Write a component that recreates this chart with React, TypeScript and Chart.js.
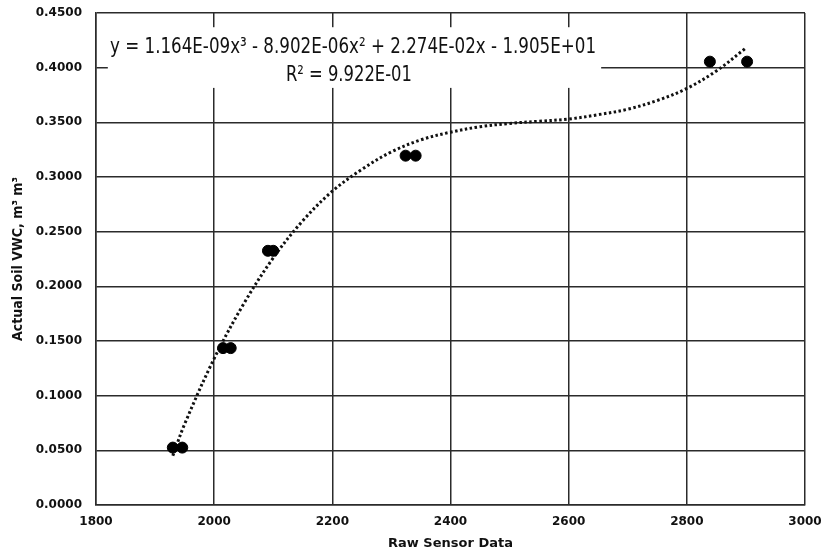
import React, { useEffect, useRef } from "react";
import { Chart, registerables } from "chart.js";

Chart.register(...registerables);

// Measured data (Raw sensor reading vs actual VWC)
const sensorX = [1930, 1946, 2015, 2028, 2091, 2100, 2324, 2341, 2839, 2902];
const vwcY = [0.0525, 0.0525, 0.1435, 0.1435, 0.2325, 0.2325, 0.3195, 0.3195, 0.4055, 0.4055];

// Trend line
const trendX = [1930, 1950, 2000, 2050, 2100, 2150, 2200, 2250, 2300, 2350, 2400, 2450, 2500, 2550, 2600, 2650, 2700, 2750, 2800, 2850, 2900];
const trendY = [0.045, 0.074, 0.134, 0.184, 0.226, 0.26, 0.287, 0.307, 0.323, 0.334, 0.341, 0.346, 0.349, 0.351, 0.353, 0.357, 0.362, 0.37, 0.381, 0.397, 0.418];

const equationLines = [
  "y = 1.164E-09x³ - 8.902E-06x² + 2.274E-02x - 1.905E+01",
  "R² = 9.922E-01",
];

const xTitle = "Raw Sensor Data";
const yTitle = "Actual Soil VWC, m³ m³";

const equationPlugin = {
  id: "equationBox",
  beforeDatasetsDraw(chart: any) {
    const ctx = chart.ctx;
    const xs = chart.scales.x;
    const ys = chart.scales.y;
    ctx.save();
    const left = xs.getPixelForValue(1820);
    const right = xs.getPixelForValue(2655);
    const top = ys.getPixelForValue(0.437);
    const bottom = ys.getPixelForValue(0.3815);
    ctx.fillStyle = "#ffffff";
    ctx.fillRect(left, top, right - left, bottom - top);
    ctx.fillStyle = "#111111";
    ctx.textAlign = "center";
    ctx.textBaseline = "alphabetic";
    ctx.font = '22px "Liberation Sans Narrow", "DejaVu Sans Condensed", "Liberation Sans", sans-serif';
    ctx.fillText(equationLines[0], xs.getPixelForValue(2235), ys.getPixelForValue(0.4135), 486);
    ctx.fillText(equationLines[1], xs.getPixelForValue(2228), ys.getPixelForValue(0.3875), 126);
    ctx.restore();
  },
};

export default function App() {
  const ref = useRef<HTMLCanvasElement | null>(null);
  useEffect(() => {
    if (!ref.current) return;
    const gridColor = "#2b2b2b";
    const tickFont = { family: '"DejaVu Sans", sans-serif', size: 12, weight: "bold" as const };
    const chart = new Chart(ref.current, {
      type: "scatter",
      data: {
        datasets: [
          {
            type: "line" as any,
            label: "Trend",
            data: trendX.map((x, i) => ({ x, y: trendY[i] })),
            borderColor: "#111111",
            borderWidth: 3,
            borderDash: [2.5, 2.5],
            pointRadius: 0,
            fill: false,
            tension: 0.35,
            order: 2,
          },
          {
            label: "Data",
            data: sensorX.map((x, i) => ({ x, y: vwcY[i] })),
            backgroundColor: "#000000",
            borderColor: "#000000",
            pointRadius: 5.5,
            pointHoverRadius: 5.5,
            order: 1,
          },
        ],
      },
      options: {
        animation: false,
        responsive: false,
        maintainAspectRatio: false,
        layout: { padding: { left: 0, right: 16, top: 13, bottom: 0 } },
        plugins: { legend: { display: false }, tooltip: { enabled: false } },
        scales: {
          x: {
            type: "linear",
            min: 1800,
            max: 3000,
            ticks: {
              stepSize: 200,
              color: "#111",
              font: tickFont,
              padding: 10,
              maxRotation: 0,
              callback: (v: any) => String(v),
            },
            grid: { color: gridColor, lineWidth: 1.5, drawTicks: false },
            border: { color: gridColor, width: 1.5 },
            title: {
              display: true,
              text: xTitle,
              color: "#111",
              font: { family: '"DejaVu Sans", sans-serif', size: 13, weight: "bold" },
              padding: { top: 0, bottom: 1 },
            },
            afterFit: (s: any) => {
              s.height = 47;
              s.paddingLeft = 0;
              s.paddingRight = 0;
            },
          },
          y: {
            type: "linear",
            min: 0,
            max: 0.45,
            ticks: {
              stepSize: 0.05,
              color: "#111",
              font: tickFont,
              padding: 14,
              callback: (v: any) => Number(v).toFixed(4),
            },
            grid: { color: gridColor, lineWidth: 1.5, drawTicks: false },
            border: { color: gridColor, width: 1.5 },
            title: {
              display: true,
              text: yTitle,
              color: "#111",
              font: { family: '"Liberation Sans Narrow", "DejaVu Sans Condensed", "Liberation Sans", sans-serif', size: 14, weight: "bold" },
              padding: { top: 10, bottom: 0 },
            },
            afterFit: (s: any) => {
              s.width = 96;
              s.paddingTop = 0;
              s.paddingBottom = 0;
            },
          },
        },
      },
      plugins: [equationPlugin],
    });
    return () => chart.destroy();
  }, []);
  return (
    <div style={{ position: "fixed", left: 0, top: 0, width: 821, height: 552, background: "#fff" }}>
      <canvas ref={ref} width={821} height={552} style={{ width: 821, height: 552, display: "block" }} />
    </div>
  );
}
